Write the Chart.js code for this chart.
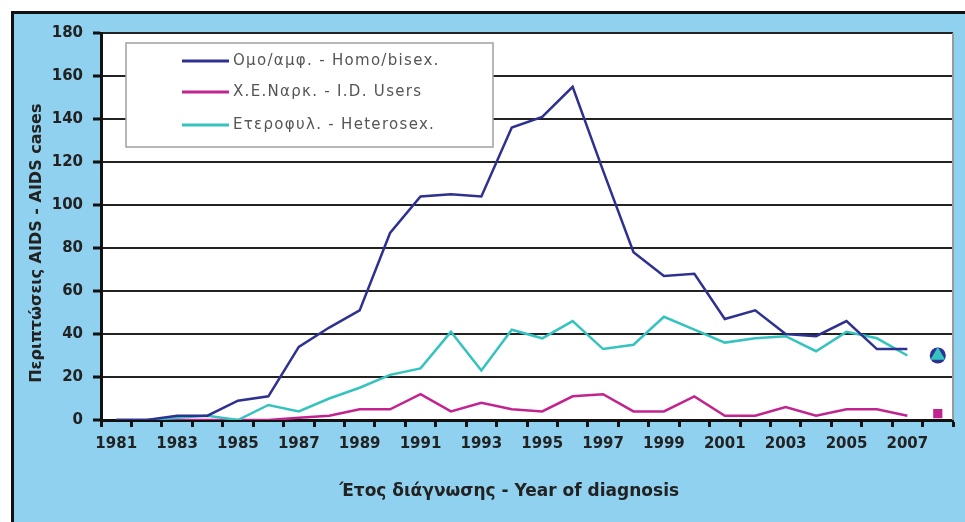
<!DOCTYPE html>
<html>
<head>
<meta charset="utf-8">
<script src="https://cdn.jsdelivr.net/npm/chart.js@4.4.1/dist/chart.umd.min.js"></script>
<style>
    body { margin: 0; background: #fff; }
    #frame {
        position: absolute; left: 11px; top: 11px; width: 954px; height: 511px;
        background: #8fd1ef; border-left: 3px solid #111; border-top: 3px solid #111;
    }
    #chart { position: absolute; left: 0; top: 0; }
</style>
</head>
<body>
<div id="frame"></div>
<canvas id="chart" width="965" height="522"></canvas>
<script>
// AIDS cases by transmission group, Greece 1981-2008
const years = ['1981', '1982', '1983', '1984', '1985', '1986', '1987', '1988', '1989', '1990',
    '1991', '1992', '1993', '1994', '1995', '1996', '1997', '1998', '1999', '2000',
    '2001', '2002', '2003', '2004', '2005', '2006', '2007', '2008'];

const homoBisex = [0, 0, 2, 2, 9, 11, 34, 43, 51, 87, 104, 105, 104, 136, 141, 155, 116, 78, 67, 68,
    47, 51, 40, 39, 46, 33, 33];
const idUsers = [0, 0, 0, 0, 0, 0, 1, 2, 5, 5, 12, 4, 8, 5, 4, 11, 12, 4, 4, 11,
    2, 2, 6, 2, 5, 5, 2];
const heterosex = [0, 0, 1, 2, 0, 7, 4, 10, 15, 21, 24, 41, 23, 42, 38, 46, 33, 35, 48, 42,
    36, 38, 39, 32, 41, 38, 30];

// last year (2008) shown only as single markers
const lastYear = { homo: 30, idu: 3, hetero: 30 };

const seriesLabels = ['Ομο/αμφ. - Homo/bisex.', 'Χ.Ε.Ναρκ. - I.D. Users', 'Ετεροφυλ. - Heterosex.'];
const yTicks = [0, 20, 40, 60, 80, 100, 120, 140, 160, 180];

const BLUE = '#2e3190';
const MAGENTA = '#c2248f';
const TEAL = '#35c3bf';

function onlyLast(v) {
    return years.map((y, i) => (i === years.length - 1 ? v : null));
}

// white plot area + grey right edge
const plotBg = {
    id: 'plotBg',
    beforeDraw(chart) {
        const { ctx, chartArea: a } = chart;
        ctx.save();
        ctx.fillStyle = '#fff';
        ctx.fillRect(a.left, a.top, a.right - a.left, a.bottom - a.top);
        ctx.restore();
    },
    afterDraw(chart) {
        const { ctx, chartArea: a } = chart;
        ctx.save();
        ctx.strokeStyle = '#9a9a9a';
        ctx.lineWidth = 2;
        ctx.beginPath();
        ctx.moveTo(a.right, a.top);
        ctx.lineTo(a.right, a.bottom);
        ctx.stroke();
        ctx.restore();
    }
};

// legend box inside the plot, top left
const boxLegend = {
    id: 'boxLegend',
    beforeDatasetsDraw(chart) {
        const ctx = chart.ctx;
        const x = 126, y = 43, w = 367, h = 104;
        ctx.save();
        ctx.fillStyle = '#fff';
        ctx.fillRect(x, y, w, h);
        ctx.strokeStyle = '#a0a0a0';
        ctx.lineWidth = 1.5;
        ctx.strokeRect(x, y, w, h);
        ctx.font = '15px "DejaVu Sans"';
        ctx.letterSpacing = '1.3px';
        ctx.textBaseline = 'middle';
        const rows = [61, 92, 125];
        chart.data.datasets.slice(0, 3).forEach((ds, i) => {
            ctx.strokeStyle = ds.borderColor;
            ctx.lineWidth = 3;
            ctx.beginPath();
            ctx.moveTo(182, rows[i]);
            ctx.lineTo(229, rows[i]);
            ctx.stroke();
            ctx.fillStyle = '#555';
            ctx.fillText(ds.label, 233, rows[i]);
        });
        ctx.letterSpacing = '0px';
        ctx.restore();
    }
};

const lineStyle = { borderWidth: 2.5, pointRadius: 0, tension: 0, fill: false };

new Chart(document.getElementById('chart'), {
    type: 'line',
    data: {
        labels: years,
        datasets: [
            { label: seriesLabels[0], data: homoBisex, borderColor: BLUE, order: 1, ...lineStyle },
            { label: seriesLabels[1], data: idUsers, borderColor: MAGENTA, order: 3, ...lineStyle },
            { label: seriesLabels[2], data: heterosex, borderColor: TEAL, order: 2, ...lineStyle },
            { label: 'homo2008', data: onlyLast(lastYear.homo), showLine: false, order: 6,
              pointStyle: 'circle', pointRadius: 8, backgroundColor: BLUE, borderColor: BLUE, borderWidth: 0 },
            { label: 'idu2008', data: onlyLast(lastYear.idu), showLine: false, order: 4,
              pointStyle: 'rect', pointRadius: 6.5, backgroundColor: MAGENTA, borderColor: MAGENTA, borderWidth: 0 },
            { label: 'hetero2008', data: onlyLast(lastYear.hetero), showLine: false, order: 5,
              pointStyle: 'triangle', pointRadius: 8.5, backgroundColor: TEAL, borderColor: TEAL, borderWidth: 0 }
        ]
    },
    options: {
        responsive: false,
        animation: false,
        devicePixelRatio: 1,
        layout: { padding: { top: 33, right: 12, left: 0, bottom: 0 } },
        plugins: {
            legend: { display: false },
            tooltip: { enabled: false }
        },
        scales: {
            x: {
                type: 'category',
                offset: true,
                grid: {
                    offset: true,
                    drawOnChartArea: false,
                    drawTicks: true,
                    tickLength: 7,
                    tickWidth: 3,
                    tickColor: '#111'
                },
                border: { color: '#111', width: 3 },
                ticks: {
                    autoSkip: false,
                    maxRotation: 0,
                    padding: 8,
                    color: '#222',
                    font: { family: 'DejaVu Sans', weight: 'bold', size: 15 },
                    callback: function (val, i) {
                        return (i % 2 === 0 && i < years.length - 1) ? years[i] : '';
                    }
                },
                title: {
                    display: true,
                    // trailing spaces pull the centred title a little to the left, as in the original
                    text: 'Έτος διάγνωσης - Year of diagnosis      ',
                    color: '#222',
                    font: { family: 'DejaVu Sans', weight: 'bold', size: 17 },
                    padding: { top: 0, bottom: 20 }
                },
                afterFit(scale) { scale.height = 102; }
            },
            y: {
                min: 0,
                max: 180,
                afterBuildTicks(scale) { scale.ticks = yTicks.map(v => ({ value: v })); },
                grid: {
                    color: '#222',
                    lineWidth: 2,
                    tickLength: 8,
                    tickWidth: 3,
                    tickColor: '#111'
                },
                border: { color: '#111', width: 3 },
                ticks: {
                    padding: 10,
                    color: '#222',
                    font: { family: 'DejaVu Sans', weight: 'bold', size: 15 }
                },
                title: {
                    display: true,
                    text: 'Περιπτώσεις AIDS - AIDS cases      ',
                    color: '#222',
                    font: { family: 'DejaVu Sans', weight: 'bold', size: 16 },
                    padding: { top: 27, bottom: 0 }
                },
                afterFit(scale) { scale.width = 101; }
            }
        }
    },
    plugins: [plotBg, boxLegend]
});
</script>
</body>
</html>
